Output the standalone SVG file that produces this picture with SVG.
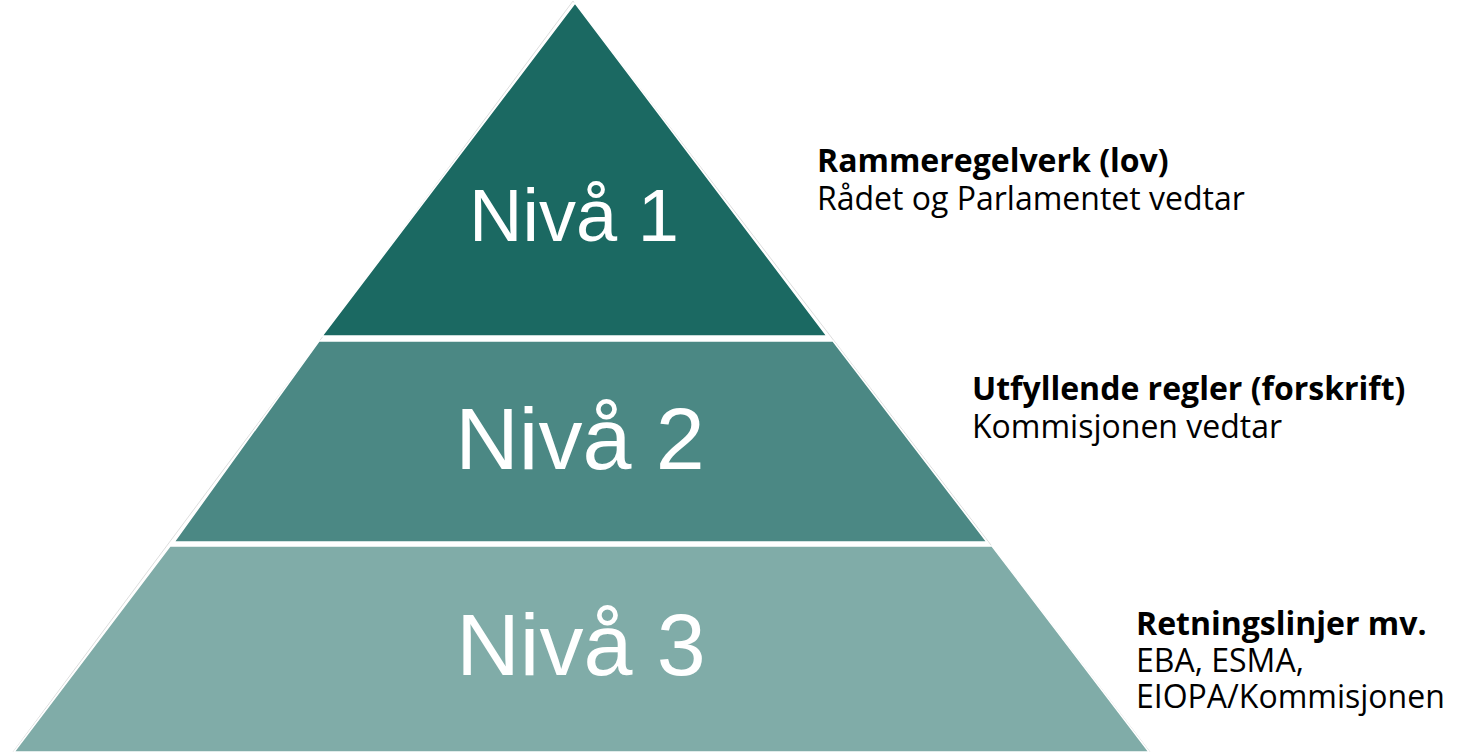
<svg xmlns="http://www.w3.org/2000/svg" width="1460" height="752" viewBox="0 0 1460 752">
<style>
.lvl{stroke:#ffffff;stroke-width:1.5;stroke-linejoin:miter}
.outline{fill:none;stroke:#dedede;stroke-width:1}
.big{font-family:"Liberation Sans",Arial,sans-serif;fill:#ffffff;text-anchor:middle}
.t{font-family:"Open Sans","Noto Sans",sans-serif;font-size:32px;fill:#000000}
.b{font-weight:bold}
</style>
<rect width="1460" height="752" fill="#ffffff"/>
<polyline class="outline" points="13,752 573,1 1150,752"/>
<g id="level1">
<polygon class="lvl" fill="#1b6962" points="575,3 827,336 322,336"/>
<text class="big" x="574" y="241" font-size="74">Nivå 1</text>
</g>
<g id="level2">
<polygon class="lvl" fill="#4b8884" points="319,341 833,341 987,542 174,542"/>
<text class="big" x="580" y="469" font-size="88">Nivå 2</text>
</g>
<g id="level3">
<polygon class="lvl" fill="#80aca8" points="170,546 992,546 1149,752 14,752"/>
<text class="big" x="581" y="675" font-size="88">Nivå 3</text>
</g>
<g id="label1">
<text class="t b" x="817" y="172">Rammeregelverk (lov)</text>
<text class="t" x="817" y="210">Rådet og Parlamentet vedtar</text>
</g>
<g id="label2">
<text class="t b" x="972" y="400">Utfyllende regler (forskrift)</text>
<text class="t" x="972" y="438">Kommisjonen vedtar</text>
</g>
<g id="label3">
<text class="t b" x="1136" y="635">Retningslinjer mv.</text>
<text class="t" x="1136" y="672">EBA, ESMA,</text>
<text class="t" x="1136" y="708">EIOPA/Kommisjonen</text>
</g>
<g id="connectors"></g>
</svg>
